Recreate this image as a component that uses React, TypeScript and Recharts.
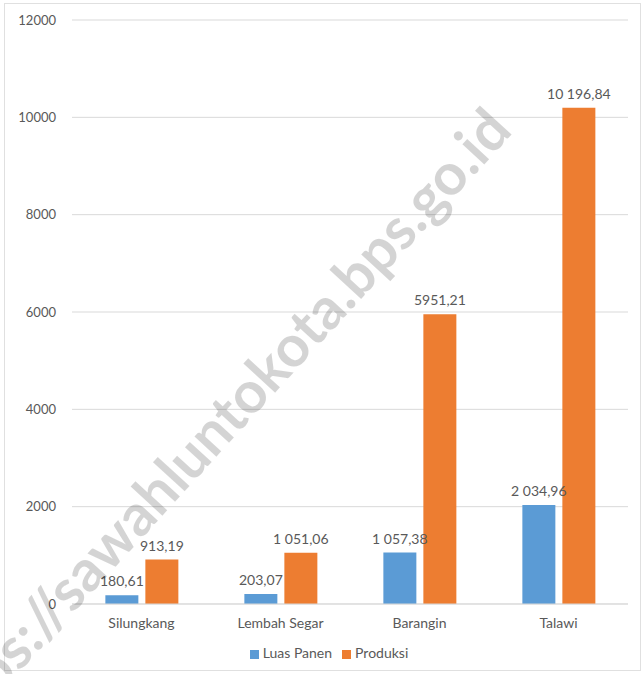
import React from 'react';
import { BarChart, Bar, XAxis, YAxis, CartesianGrid, Legend, LabelList } from 'recharts';

const kecamatan = ['Silungkang', 'Lembah Segar', 'Barangin', 'Talawi'];
const luasPanen = [180.61, 203.07, 1057.38, 2034.96];
const produksi = [913.19, 1051.06, 5951.21, 10196.84];
const luasLabels = ['180,61', '203,07', '1 057,38', '2 034,96'];
const produksiLabels = ['913,19', '1 051,06', '5951,21', '10 196,84'];
const yTicks = [0, 2000, 4000, 6000, 8000, 10000, 12000];

const data = kecamatan.map((name, i) => ({
  name,
  luas: luasPanen[i],
  produksi: produksi[i],
  luasLabel: luasLabels[i],
  produksiLabel: produksiLabels[i],
}));

const font = 'Lato, "Open Sans", sans-serif';
const textColor = '#595959';

// plain <text> so labels like "1 051,06" stay on one line
const BarLabel = (props: any) => {
  const { x, y, width, value } = props;
  return (
    <text
      x={x + width / 2}
      y={y - 9}
      textAnchor="middle"
      fill={textColor}
      fontSize={14}
      fontFamily={font}
    >
      {value}
    </text>
  );
};

const App: React.FC = () => {
  return (
    <div style={{ position: 'absolute', left: 0, top: 0, width: 643, height: 674, background: '#fff', fontFamily: font, overflow: 'hidden' }}>
      <div style={{ position: 'absolute', left: 4, top: 3, width: 637, height: 668, border: '1px solid #e0e0e0', boxSizing: 'border-box' }} />
      <BarChart
        width={643}
        height={674}
        data={data}
        margin={{ top: 20, right: 15, bottom: 40, left: 0 }}
        barCategoryGap="24%"
        barGap={7}
      >
        <CartesianGrid vertical={false} stroke="#d9d9d9" />
        <XAxis
          dataKey="name"
          height={30}
          axisLine={{ stroke: '#d9d9d9' }}
          tickLine={false}
          tickMargin={8}
          tick={{ fill: textColor, fontSize: 14, fontFamily: font }}
        />
        <YAxis
          width={72}
          domain={[0, 12000]}
          ticks={yTicks}
          axisLine={false}
          tickLine={false}
          tickSize={8}
          tickMargin={8}
          tick={{ fill: textColor, fontSize: 13, fontFamily: font }}
        />
        <Legend
          verticalAlign="middle"
          align="center"
          iconType="square"
          iconSize={9}
          wrapperStyle={{ top: 644, left: 20, fontFamily: font, fontSize: 14 }}
          formatter={(value) => <span style={{ color: textColor }}>{value}</span>}
        />
        <Bar dataKey="luas" name="Luas Panen" fill="#5B9BD5" isAnimationActive={false}>
          <LabelList dataKey="luasLabel" content={BarLabel} />
        </Bar>
        <Bar dataKey="produksi" name="Produksi" fill="#ED7D31" isAnimationActive={false}>
          <LabelList dataKey="produksiLabel" content={BarLabel} />
        </Bar>
      </BarChart>
      <svg width={643} height={674} style={{ position: 'absolute', left: 0, top: 0, pointerEvents: 'none' }}>
        <text
          x={514}
          y={132}
          textAnchor="end"
          transform="rotate(-47.5 514 132)"
          fill="#000"
          fillOpacity={0.17}
          fontSize={58}
          fontWeight="bold"
          fontFamily={font}
        >
          https://sawahluntokota.bps.go.id
        </text>
      </svg>
    </div>
  );
};

export default App;
